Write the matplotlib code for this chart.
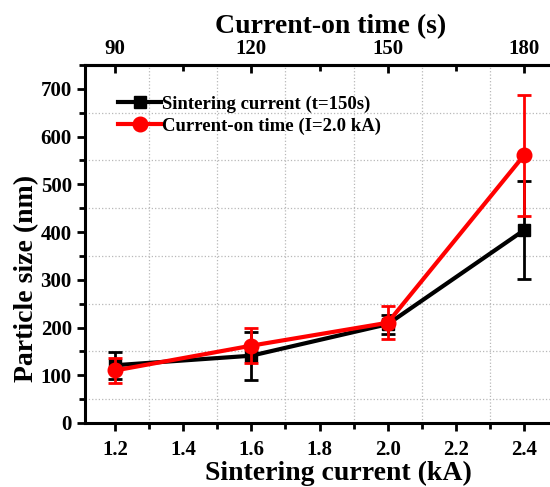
import matplotlib
matplotlib.use("Agg")
import matplotlib.pyplot as plt
import numpy as np
from matplotlib.ticker import MultipleLocator

plt.rcParams['font.family'] = ['Liberation Serif', 'DejaVu Serif']
plt.rcParams['font.weight'] = 'bold'

current = [1.2, 1.6, 2.0, 2.4]
size_current = [121, 141, 207, 404]
err_current = [28, 50, 20, 103]

size_time = [110, 162, 210, 561]
err_time = [27, 37, 35, 127]

time_ticks = [90, 120, 150, 180]

fig = plt.figure(figsize=(5.5, 4.87), dpi=100)
ax = fig.add_axes([85/550, 1-423/487, 1-85/550, (423-65)/487])

e1 = ax.errorbar(current, size_current, yerr=err_current, color='black', lw=3,
                 marker='s', ms=9, capsize=5, capthick=2, elinewidth=2,
                 label='Sintering current (t=150s)', zorder=3)
e2 = ax.errorbar(current, size_time, yerr=err_time, color='red', lw=3,
                 marker='o', ms=10.5, capsize=5, capthick=2, elinewidth=2,
                 label='Current-on time (I=2.0 kA)', zorder=4)

ax.set_xlim(1.112, 2.476)
ax.set_ylim(0, 750)
ax.xaxis.set_minor_locator(MultipleLocator(0.1))
ax.yaxis.set_major_locator(MultipleLocator(100))
ax.yaxis.set_minor_locator(MultipleLocator(50))
ax.set_xticks([1.2, 1.4, 1.6, 1.8, 2.0, 2.2, 2.4])
ax.set_xticklabels(['1.2', '1.4', '1.6', '1.8', '2.0', '2.2', '2.4'])
ax.grid(which='minor', color='#b8b8b8', ls=':', lw=0.9)
ax.grid(which='major', visible=False)
ax.tick_params(which='major', direction='out', length=6, width=2, labelsize=15)
ax.tick_params(axis='x', which='major', pad=6)
ax.tick_params(which='minor', direction='out', length=4, width=2)
for s in ['left', 'bottom', 'top']:
    ax.spines[s].set_linewidth(2.2)
ax.spines['right'].set_visible(False)

ax.set_xlabel('Sintering current (kA)', fontsize=20, fontweight='bold')
ax.xaxis.set_label_coords(0.546, -0.106)
ax.set_ylabel('Particle size (nm)', fontsize=20, fontweight='bold')
ax.yaxis.set_label_coords(-0.099, 0.405)

# top axis aligned with bottom: 90 s <-> 1.2 kA, 30 s per 0.4 kA
f = lambda t: 1.2 + (np.asarray(t) - 90) / 75.0
g = lambda i: 90 + (np.asarray(i) - 1.2) * 75.0
top = ax.secondary_xaxis('top', functions=(g, f))
top.set_xticks(time_ticks)
top.set_xticklabels([str(t) for t in time_ticks])
top.xaxis.set_minor_locator(MultipleLocator(15))
top.tick_params(which='major', direction='in', length=6, width=2, labelsize=15, pad=4.5)
top.tick_params(which='minor', direction='in', length=4, width=2)
top.spines['top'].set_linewidth(2.2)
top.set_xlabel('Current-on time (s)', fontsize=20, fontweight='bold')
top.xaxis.set_label_coords(0.529, 1.09, transform=ax.transAxes)

handles = [e1[0], e2[0]]
labels = ['Sintering current (t=150s)', 'Current-on time (I=2.0 kA)']
leg = ax.legend(handles, labels, loc='upper left', bbox_to_anchor=(0.055, 0.936),
                frameon=False, fontsize=13.5, handlelength=2.3, handletextpad=0.05,
                borderaxespad=0.0, labelspacing=0.25)
for t in leg.get_texts():
    t.set_fontweight('bold')

fig.savefig('out.png', dpi=100)
